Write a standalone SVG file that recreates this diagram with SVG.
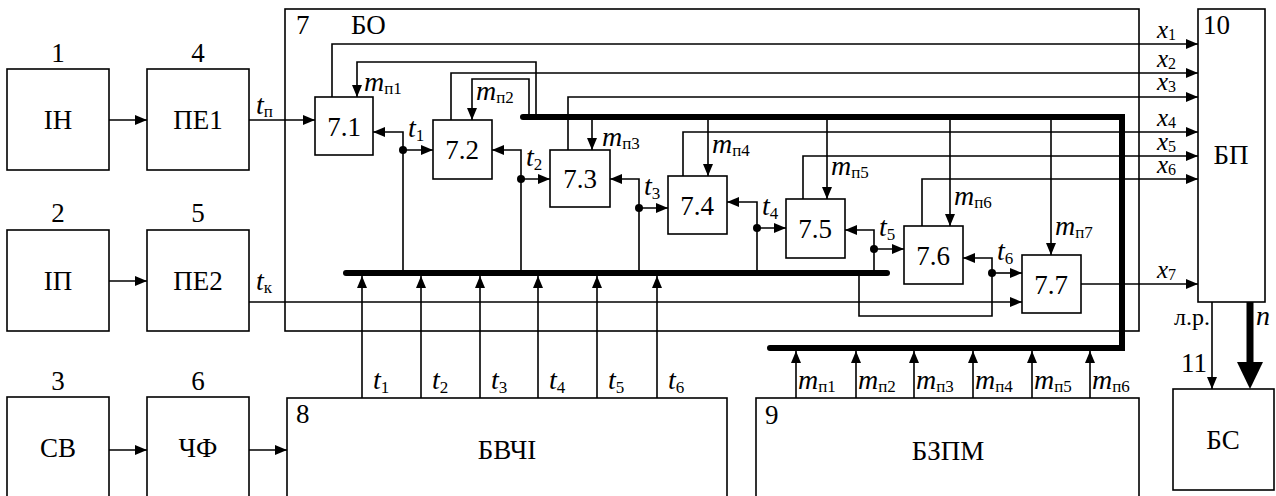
<svg xmlns="http://www.w3.org/2000/svg" width="1276" height="496" viewBox="0 0 1276 496" font-family="'Liberation Serif', 'DejaVu Serif', serif">
<style>
rect{fill:#fff;stroke:#000;stroke-width:1.6}
text{font-family:'Liberation Serif','DejaVu Serif',serif;font-size:27px;fill:#000}
.c{text-anchor:middle}
.v{font-style:italic;font-size:28px}
.xl{font-style:italic;font-size:25px}
.s{font-style:normal;font-size:17px}
.xs{font-style:normal;font-size:16px}
.w{fill:none;stroke:#000;stroke-width:1.6}
.a{marker-end:url(#ah)}
.bus{fill:none;stroke:#000;stroke-width:6;stroke-linecap:round;stroke-linejoin:miter}
</style>
<defs>
<marker id="ah" markerWidth="12" markerHeight="10" refX="12" refY="5" orient="auto" markerUnits="userSpaceOnUse"><path d="M0,0 L12,5 L0,10 z" fill="#000"/></marker>
</defs>
<rect x="0" y="0" width="1276" height="496" style="stroke:none"/>
<g id="n1"><rect x="7" y="69" width="102" height="101"/><text class="c" x="58" y="129">ІН</text><text class="c" x="58" y="62">1</text></g>
<g id="n4"><rect x="147" y="69" width="102" height="101"/><text class="c" x="198" y="129">ПЕ1</text><text class="c" x="198" y="62">4</text></g>
<g id="n2"><rect x="7" y="230" width="102" height="101"/><text class="c" x="58" y="290">ІП</text><text class="c" x="58" y="222">2</text></g>
<g id="n5"><rect x="147" y="230" width="102" height="101"/><text class="c" x="198" y="290">ПЕ2</text><text class="c" x="198" y="222">5</text></g>
<g id="n3"><rect x="7" y="397" width="102" height="110"/><text class="c" x="58" y="457">СВ</text><text class="c" x="58" y="390">3</text></g>
<g id="n6"><rect x="147" y="397" width="102" height="110"/><text class="c" x="198" y="457">ЧФ</text><text class="c" x="198" y="390">6</text></g>
<g id="n7"><rect x="285" y="9" width="854" height="322"/><text x="296" y="34">7</text><text x="351" y="34">БО</text></g>
<g id="n10"><rect x="1198" y="9" width="67" height="293"/><text x="1203" y="34">10</text><text class="c" x="1231" y="164">БП</text></g>
<g id="n8"><rect x="287" y="398" width="440" height="110"/><text x="296" y="423">8</text><text class="c" x="507" y="459">БВЧІ</text></g>
<g id="n9"><rect x="756" y="398" width="383" height="110"/><text x="765" y="424">9</text><text class="c" x="948" y="460">БЗПМ</text></g>
<g id="n11"><rect x="1173" y="389" width="101" height="101"/><text class="c" x="1223" y="449">БС</text><text x="1181" y="372">11</text></g>
<g id="n7_1"><rect x="315" y="97" width="58" height="58"/><text class="c" x="344" y="136">7.1</text></g>
<g id="n7_2"><rect x="433" y="120" width="59" height="59"/><text class="c" x="462" y="159">7.2</text></g>
<g id="n7_3"><rect x="550" y="150" width="60" height="57"/><text class="c" x="580" y="188">7.3</text></g>
<g id="n7_4"><rect x="668" y="176" width="59" height="58"/><text class="c" x="697" y="215">7.4</text></g>
<g id="n7_5"><rect x="786" y="199" width="59" height="59"/><text class="c" x="815" y="238">7.5</text></g>
<g id="n7_6"><rect x="904" y="226" width="59" height="58"/><text class="c" x="933" y="265">7.6</text></g>
<g id="n7_7"><rect x="1022" y="255" width="59" height="58"/><text class="c" x="1051" y="294">7.7</text></g>
<g id="connectors">
<path class="bus" d="M523,117 H1122 V348 H770"/>
<path class="bus" d="M346,273 H887"/>
<path class="w a" d="M109,120 H147"/>
<path class="w a" d="M109,281 H147"/>
<path class="w a" d="M109,450 H147"/>
<path class="w a" d="M249,450 H287"/>
<path class="w a" d="M249,120 H315"/>
<path class="w a" d="M249,302 H1022"/>
<path class="w a" d="M332,97 V44 H1198"/>
<path class="w a" d="M451,120 V73 H1198"/>
<path class="w a" d="M568,150 V97 H1198"/>
<path class="w a" d="M683,176 V132 H1198"/>
<path class="w a" d="M803,199 V156 H1198"/>
<path class="w a" d="M922,226 V179 H1198"/>
<path class="w a" d="M1081,284 H1198"/>
<path class="w a" d="M536,117 V62 H357 V97"/>
<path class="w a" d="M529,117 V79 H472 V120"/>
<path class="w a" d="M592,117 V150"/>
<path class="w a" d="M708,117 V176"/>
<path class="w a" d="M827,117 V199"/>
<path class="w a" d="M950,117 V226"/>
<path class="w a" d="M1051,117 V255"/>
<path class="w a" d="M403,273 V150 H433"/>
<path class="w a" d="M403,150 V132 H373"/>
<path class="w a" d="M521,273 V179 H550"/>
<path class="w a" d="M521,179 V150 H492"/>
<path class="w a" d="M639,273 V208 H668"/>
<path class="w a" d="M639,208 V179 H610"/>
<path class="w a" d="M757,273 V228 H786"/>
<path class="w a" d="M757,228 V202 H727"/>
<path class="w a" d="M874,273 V249 H904"/>
<path class="w a" d="M874,249 V230 H845"/>
<path class="w" d="M859,273 V316 H992 V273"/>
<path class="w a" d="M992,273 H1022"/>
<path class="w a" d="M992,273 V258 H963"/>
<g fill="#000"><circle cx="403" cy="150" r="4"/><circle cx="521" cy="179" r="4"/><circle cx="639" cy="208" r="4"/><circle cx="757" cy="228" r="4"/><circle cx="874" cy="249" r="4"/><circle cx="992" cy="273" r="4"/></g>
<path class="w a" d="M362,398 V276"/>
<path class="w a" d="M421,398 V276"/>
<path class="w a" d="M480,398 V276"/>
<path class="w a" d="M538,398 V276"/>
<path class="w a" d="M597,398 V276"/>
<path class="w a" d="M657,398 V276"/>
<path class="w a" d="M796,398 V351"/>
<path class="w a" d="M856,398 V351"/>
<path class="w a" d="M914,398 V351"/>
<path class="w a" d="M973,398 V351"/>
<path class="w a" d="M1032,398 V351"/>
<path class="w a" d="M1090,398 V351"/>
<path class="w a" d="M1212,302 V389"/>
<path d="M1250,302 V364" stroke="#000" stroke-width="7" fill="none"/>
<path d="M1237,362 L1263,362 L1250,389 z" fill="#000"/>
</g>
<g id="labels">
<text class="v" x="256" y="114">t<tspan class="s" dy="3">п</tspan></text>
<text class="v" x="256" y="290">t<tspan class="s" dy="3">к</tspan></text>
<text class="xl" x="1157" y="38">x<tspan class="xs" dy="2">1</tspan></text>
<text class="xl" x="1157" y="67">x<tspan class="xs" dy="2">2</tspan></text>
<text class="xl" x="1157" y="90">x<tspan class="xs" dy="2">3</tspan></text>
<text class="xl" x="1157" y="126">x<tspan class="xs" dy="2">4</tspan></text>
<text class="xl" x="1157" y="150">x<tspan class="xs" dy="2">5</tspan></text>
<text class="xl" x="1157" y="173">x<tspan class="xs" dy="2">6</tspan></text>
<text class="xl" x="1157" y="278">x<tspan class="xs" dy="2">7</tspan></text>
<text class="v" x="364" y="91">m<tspan class="s" dy="3">п1</tspan></text>
<text class="v" x="476" y="100">m<tspan class="s" dy="3">п2</tspan></text>
<text class="v" x="602" y="146">m<tspan class="s" dy="3">п3</tspan></text>
<text class="v" x="712" y="153">m<tspan class="s" dy="3">п4</tspan></text>
<text class="v" x="831" y="175">m<tspan class="s" dy="3">п5</tspan></text>
<text class="v" x="954" y="205">m<tspan class="s" dy="3">п6</tspan></text>
<text class="v" x="1055" y="235">m<tspan class="s" dy="3">п7</tspan></text>
<text class="v" x="408" y="137">t<tspan class="s" dy="4">1</tspan></text>
<text class="v" x="526" y="166">t<tspan class="s" dy="4">2</tspan></text>
<text class="v" x="644" y="195">t<tspan class="s" dy="4">3</tspan></text>
<text class="v" x="762" y="215">t<tspan class="s" dy="4">4</tspan></text>
<text class="v" x="879" y="236">t<tspan class="s" dy="4">5</tspan></text>
<text class="v" x="997" y="260">t<tspan class="s" dy="4">6</tspan></text>
<text class="v" x="373" y="389">t<tspan class="s" dy="4">1</tspan></text>
<text class="v" x="432" y="389">t<tspan class="s" dy="4">2</tspan></text>
<text class="v" x="491" y="389">t<tspan class="s" dy="4">3</tspan></text>
<text class="v" x="549" y="389">t<tspan class="s" dy="4">4</tspan></text>
<text class="v" x="608" y="389">t<tspan class="s" dy="4">5</tspan></text>
<text class="v" x="668" y="389">t<tspan class="s" dy="4">6</tspan></text>
<text class="v" x="798" y="389">m<tspan class="s" dy="3">п1</tspan></text>
<text class="v" x="858" y="389">m<tspan class="s" dy="3">п2</tspan></text>
<text class="v" x="916" y="389">m<tspan class="s" dy="3">п3</tspan></text>
<text class="v" x="975" y="389">m<tspan class="s" dy="3">п4</tspan></text>
<text class="v" x="1034" y="389">m<tspan class="s" dy="3">п5</tspan></text>
<text class="v" x="1092" y="389">m<tspan class="s" dy="3">п6</tspan></text>
<text x="1210" y="325" style="text-anchor:end;font-size:24px">л.р.</text>
<text class="v" x="1256" y="325">n</text>
</g>
</svg>
